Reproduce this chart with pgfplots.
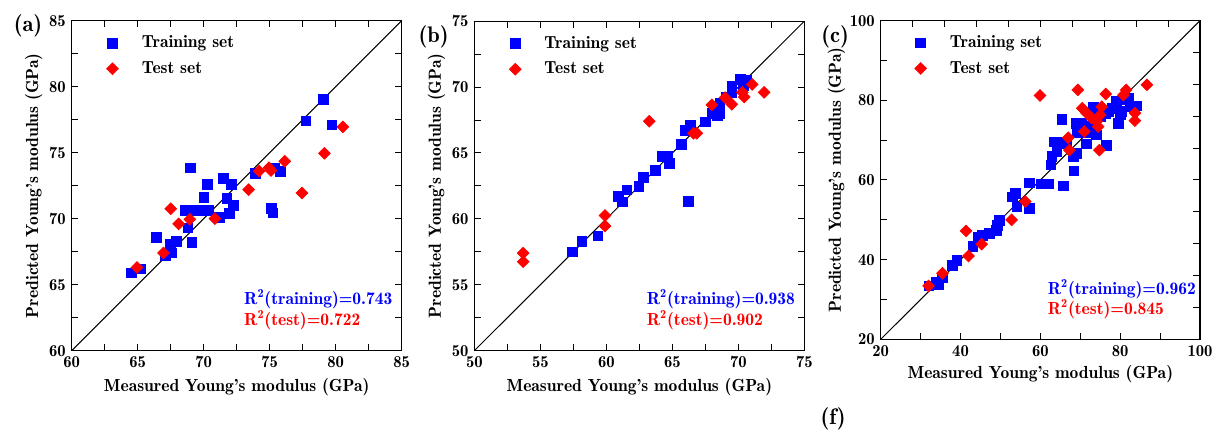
\documentclass[border=0pt]{standalone}
\usepackage{pgfplots}
\pgfplotsset{compat=1.18}
\definecolor{trainblue}{RGB}{0,0,255}
\definecolor{testred}{RGB}{255,0,0}
\newcommand\fs[1]{\fontsize{#1}{1.2\dimexpr#1pt\relax}\fontseries{b}\selectfont}

% panel (a)
\pgfplotstableread{
x y
64.5 65.9
65.2 66.2
66.4 68.6
67.1 67.2
67.6 67.4
67.45 68.05
67.95 68.3
68.8 69.3
69.1 68.2
69.0 73.85
70.0 71.6
70.3 72.6
68.6 70.65
69.1 70.65
69.6 70.65
70.0 70.65
70.4 70.65
71.2 70.1
71.5 73.05
71.75 71.55
71.95 70.4
72.25 71.0
72.1 72.6
73.9 73.45
75.15 70.8
75.25 70.45
75.4 73.85
75.8 73.6
77.75 77.4
79.05 79.05
79.7 77.1
}\trainA
\pgfplotstableread{
x y
64.95 66.3
66.95 67.4
67.5 70.75
68.1 69.6
68.95 69.95
70.85 70.0
73.4 72.2
74.2 73.6
74.95 73.85
75.1 73.65
76.15 74.35
77.45 71.95
79.15 74.95
80.55 76.95
}\testA
% panel (b)
\pgfplotstableread{
x y
57.4 57.5
58.15 58.3
59.35 58.7
60.9 61.7
61.2 61.3
61.55 62.2
62.45 62.45
62.8 63.15
63.7 63.7
64.2 64.75
64.6 64.75
64.75 64.2
65.7 65.65
66.2 61.35
66.0 66.7
66.35 67.1
67.5 67.35
68.0 68.0
68.4 67.85
68.6 68.0
68.25 68.35
68.6 68.8
69.1 69.2
69.5 69.6
69.5 70.1
70.15 70.6
70.4 70.1
70.6 70.5
}\trainB
\pgfplotstableread{
x y
53.7 57.4
53.7 56.75
59.9 60.25
59.9 59.45
63.25 67.4
66.6 66.5
66.85 66.5
68.0 68.65
69.0 69.2
69.5 68.7
70.3 69.6
70.45 69.25
71.05 70.2
71.95 69.6
}\testB
% panel (c)
\pgfplotstableread{
x y
32.1 33.4
34.0 34.3
34.6 33.7
35.4 35.6
37.9 38.6
39.1 39.9
43.1 43.3
44.4 45.6
45.5 46.1
47.3 46.6
49.0 47.4
49.3 48.6
49.8 49.8
52.9 55.8
53.8 56.6
54.1 53.3
57.2 52.9
57.3 59.3
60.3 59.0
62.0 59.0
62.6 63.8
62.9 65.9
63.5 69.6
64.6 69.4
64.1 67.1
65.4 75.3
65.8 58.5
68.4 62.3
68.3 65.9
69.1 66.7
66.6 69.2
69.2 72.0
69.1 74.3
70.4 74.3
71.6 69.1
71.8 71.8
72.5 73.5
73.3 78.4
74.1 71.3
74.1 76.8
75.0 75.9
76.2 76.8
76.5 68.7
77.2 77.3
77.9 78.0
79.1 79.7
79.6 74.3
80.0 76.5
80.4 77.2
80.8 80.1
82.1 80.6
82.5 78.5
84.2 78.6
}\trainC
\pgfplotstableread{
x y
32.0 33.4
35.5 36.6
41.4 47.2
42.0 40.9
45.3 43.9
52.8 50.0
56.2 54.6
59.9 81.2
67.0 70.6
67.3 67.5
69.4 82.6
70.5 78.0
71.0 72.2
71.6 76.8
72.9 75.5
74.1 74.7
74.5 73.4
74.8 67.5
75.0 76.3
75.4 78.4
76.4 81.6
80.8 81.3
81.5 82.6
83.7 76.8
83.7 74.9
86.7 83.9
}\testC

\pgfplotsset{
  parity/.style={
    scale only axis,
    anchor=south west,
    axis line style={line width=0.7pt},
    every tick/.style={black, line width=0.6pt},
    major tick length=4pt, minor tick length=4pt,
    minor tick num=1,
    tick align=inside,
    /pgf/number format/assume math mode=true,
    tick label style={font=\fs{10}},
    label style={font=\fs{10.5}},
    xlabel={Measured Young's modulus (GPa)},
    ylabel={Predicted Young's modulus (GPa)},
    xlabel style={at={(axis description cs:0.5,-0.11)}, anchor=center},
    ylabel style={at={(axis description cs:-0.115,0.5)}, anchor=center},
    legend image code/.code={\draw[#1] plot coordinates {(0pt,0pt)};},
    legend style={at={(axis description cs:0.09,0.975)}, anchor=north west,
      draw=none, fill=none, font=\fs{10.5},
      row sep=2.7pt, /tikz/every odd column/.append style={column sep=12pt}},
    legend cell align=left,
  },
  train/.style={only marks, mark=square*, mark size=2.9pt, color=trainblue},
  test/.style={only marks, mark=square*, mark size=2.5pt, color=testred,
    mark options={rotate=45}},
  diag/.style={black, line width=0.6pt, forget plot},
}
\tikzset{
  rlabel/.style={anchor=west, font=\fs{10.5}},
  plabel/.style={font=\fs{13.5}},
}

\begin{document}
\begin{tikzpicture}
\useasboundingbox (0,0) rectangle (729.6pt,259.2pt);

% (a)
\begin{axis}[parity, at={(43pt,48.8pt)}, width=198pt, height=198pt,
  xmin=60, xmax=85, ymin=60, ymax=85,
  xtick={60,65,...,85}, ytick={60,65,...,85}]
\addplot[diag] coordinates {(60,60) (85,85)};
\addplot[train] table {\trainA};
\addlegendentry{Training set}
\addplot[test] table {\testA};
\addlegendentry{Test set}
\node[rlabel, text=trainblue] at (rel axis cs:0.505,0.156) {R\textsuperscript{2}(training)=0.743};
\node[rlabel, text=testred] at (rel axis cs:0.505,0.093) {R\textsuperscript{2}(test)=0.722};
\end{axis}

% (b)
\begin{axis}[parity, at={(284.6pt,48.8pt)}, width=198pt, height=197.7pt,
  xmin=50, xmax=75, ymin=50, ymax=75,
  xtick={50,55,...,75}, ytick={50,55,...,75}]
\addplot[diag] coordinates {(50,50) (75,75)};
\addplot[train] table {\trainB};
\addlegendentry{Training set}
\addplot[test] table {\testB};
\addlegendentry{Test set}
\node[rlabel, text=trainblue] at (rel axis cs:0.505,0.156) {R\textsuperscript{2}(training)=0.938};
\node[rlabel, text=testred] at (rel axis cs:0.505,0.093) {R\textsuperscript{2}(test)=0.902};
\end{axis}

% (c)
\begin{axis}[parity, at={(528.4pt,55.6pt)}, width=191.6pt, height=191.2pt,
  xmin=20, xmax=100, ymin=20, ymax=100,
  xtick={20,40,...,100}, ytick={20,40,...,100},
  xtick pos=bottom, ytick pos=left,
  ylabel style={at={(axis description cs:-0.138,0.5)}},
  xlabel style={at={(axis description cs:0.5,-0.109)}}]
\addplot[diag] coordinates {(20,20) (100,100)};
\addplot[train] table {\trainC};
\addlegendentry{Training set}
\addplot[test] table {\testC};
\addlegendentry{Test set}
\node[rlabel, text=trainblue] at (rel axis cs:0.505,0.157) {R\textsuperscript{2}(training)=0.962};
\node[rlabel, text=testred] at (rel axis cs:0.505,0.094) {R\textsuperscript{2}(test)=0.845};
\end{axis}
\begin{axis}[scale only axis, anchor=south west, at={(528.4pt,55.6pt)},
  width=191.6pt, height=191.2pt,
  xmin=20, xmax=100, ymin=20, ymax=100,
  axis line style={line width=0.7pt},
  every tick/.style={black, line width=0.6pt}, major tick length=4pt,
  tick align=inside,
  xtick={28,36,...,92}, ytick={28,36,...,92},
  xtick pos=top, ytick pos=right,
  xticklabels={}, yticklabels={}]
\end{axis}

\node[plabel] at (16.8pt,243.6pt) {(a)};
\node[plabel] at (260.1pt,237.3pt) {(b)};
\node[plabel] at (501pt,237.3pt) {(c)};
\node[plabel] at (499.8pt,7.8pt) {(f)};
\end{tikzpicture}
\end{document}
